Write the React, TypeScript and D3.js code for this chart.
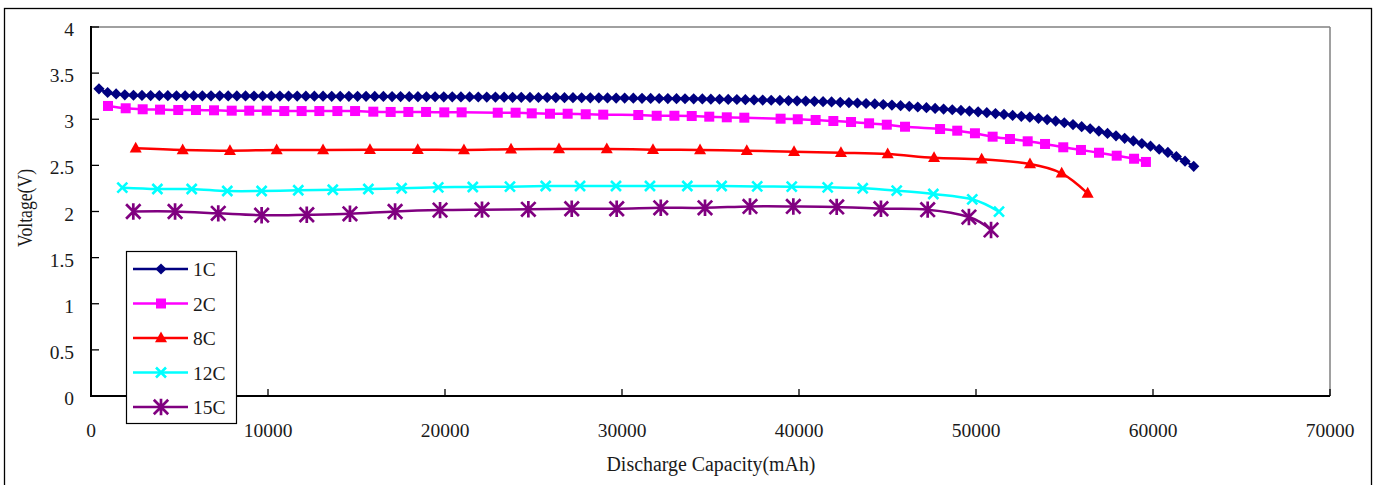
import React from "react";
import * as d3 from "d3";

// ---------- data ----------
const CAP_1C = [
  450, 940, 1420, 1910, 2400, 2880, 3370, 3860, 4340, 4830,
  5320, 5800, 6290, 6780, 7270, 7750, 8240, 8730, 9210, 9700,
  10190, 10670, 11160, 11650, 12140, 12620, 13110, 13600, 14080, 14570,
  15060, 15540, 16030, 16520, 17010, 17490, 17980, 18470, 18950, 19440,
  19930, 20410, 20900, 21390, 21880, 22360, 22850, 23340, 23820, 24310,
  24800, 25280, 25770, 26260, 26750, 27230, 27720, 28210, 28690, 29180,
  29670, 30150, 30640, 31130, 31620, 32100, 32590, 33080, 33560, 34050,
  34540, 35020, 35510, 36000, 36490, 36970, 37460, 37950, 38430, 38920,
  39410, 39890, 40380, 40870, 41360, 41840, 42330, 42820, 43300, 43790,
  44280, 44760, 45250, 45740, 46230, 46710, 47200, 47690, 48170, 48660,
  49150, 49630, 50120, 50610, 51100, 51580, 52070, 52560, 53040, 53530,
  54020, 54500, 54990, 55480, 55970, 56450, 56940, 57430, 57910, 58400,
  58890, 59370, 59860, 60350, 60840, 61320, 61810, 62300,
];
const V_1C = [
  3.33, 3.29, 3.275, 3.265, 3.26, 3.258, 3.257, 3.256, 3.256, 3.255,
  3.255, 3.255, 3.254, 3.254, 3.254, 3.253, 3.253, 3.253, 3.252, 3.252,
  3.252, 3.251, 3.251, 3.251, 3.25, 3.25, 3.25, 3.249, 3.249, 3.249,
  3.248, 3.248, 3.247, 3.247, 3.246, 3.246, 3.245, 3.245, 3.244, 3.244,
  3.243, 3.243, 3.242, 3.242, 3.241, 3.24, 3.24, 3.239, 3.238, 3.238,
  3.237, 3.236, 3.236, 3.235, 3.234, 3.234, 3.233, 3.232, 3.232, 3.231,
  3.23, 3.229, 3.228, 3.227, 3.226, 3.225, 3.224, 3.223, 3.222, 3.221,
  3.22, 3.218, 3.217, 3.215, 3.214, 3.212, 3.21, 3.208, 3.206, 3.204,
  3.202, 3.2, 3.197, 3.194, 3.191, 3.188, 3.184, 3.18, 3.176, 3.171,
  3.166, 3.16, 3.154, 3.147, 3.14, 3.133, 3.125, 3.117, 3.11, 3.103,
  3.096, 3.089, 3.08, 3.071, 3.062, 3.052, 3.042, 3.032, 3.022, 3.01,
  2.996, 2.98, 2.962, 2.942, 2.92, 2.897, 2.872, 2.846, 2.82, 2.793,
  2.765, 2.737, 2.708, 2.675, 2.64, 2.595, 2.545, 2.49,
];

const CAP_2C = [
  960, 1960, 2920, 3900, 4930, 5930, 6950, 7950, 8940, 9930,
  10920, 11900, 12900, 13920, 14920, 15950, 16930, 17930, 18930, 19960,
  20940, 22980, 23990, 24900, 25930, 26930, 27950, 28940, 30920, 31960,
  32960, 33940, 34930, 35920, 36910, 38960, 39930, 40940, 41940, 42940,
  43960, 44960, 45990, 47970, 48940, 49940, 50940, 51920, 52920, 53900,
  54930, 55930, 56950, 57950, 58930, 59600,
];
const V_2C = [
  3.144, 3.119, 3.108, 3.104, 3.1, 3.1, 3.097, 3.093, 3.093, 3.093,
  3.089, 3.089, 3.089, 3.089, 3.089, 3.082, 3.079, 3.079, 3.079, 3.075,
  3.075, 3.071, 3.071, 3.064, 3.06, 3.06, 3.054, 3.05, 3.046, 3.038,
  3.038, 3.035, 3.028, 3.021, 3.017, 3.006, 3.0, 2.992, 2.981, 2.97,
  2.956, 2.941, 2.919, 2.894, 2.876, 2.848, 2.811, 2.786, 2.761, 2.732,
  2.696, 2.667, 2.637, 2.605, 2.572, 2.537,
];

const CAP_8C = [
  2525, 5180, 7850, 10490, 13110, 15760, 18460, 21070, 23730, 26440,
  29140, 31750, 34410, 37050, 39720, 42370, 45010, 47630, 50320, 53050,
  54840, 56310,
];
const V_8C = [
  2.685, 2.667, 2.659, 2.667, 2.667, 2.67, 2.67, 2.667, 2.674, 2.678,
  2.678, 2.67, 2.667, 2.659, 2.648, 2.637, 2.623, 2.583, 2.566, 2.515,
  2.414, 2.197,
];

const CAP_12C = [
  1770, 3750, 5690, 7700, 9640, 11710, 13660, 15670, 17550, 19620,
  21570, 23670, 25690, 27630, 29660, 31580, 33690, 35630, 37640, 39590,
  41620, 43600, 45520, 47590, 49790, 51300,
];
const V_12C = [
  2.258, 2.244, 2.244, 2.222, 2.222, 2.23, 2.236, 2.244, 2.252, 2.262,
  2.266, 2.269, 2.276, 2.276, 2.276, 2.276, 2.276, 2.276, 2.272, 2.269,
  2.262, 2.252, 2.226, 2.19, 2.132, 1.998,
];

const CAP_15C = [
  2390, 4750, 7190, 9640, 12190, 14630, 17180, 19720, 22090, 24710,
  27160, 29700, 32190, 34690, 37230, 39680, 42130, 44630, 47270, 49600,
  50850,
];
const V_15C = [
  2.0, 2.0, 1.98, 1.96, 1.965, 1.975, 2.0, 2.015, 2.02, 2.024,
  2.03, 2.03, 2.04, 2.04, 2.055, 2.055, 2.05, 2.03, 2.02, 1.94,
  1.8,
];

const SERIES_NAMES = ["1C", "2C", "8C", "12C", "15C"];
const SERIES_COLORS = ["#000080", "#FF00FF", "#FF0000", "#00FFFF", "#800080"];
const SERIES_MARKERS = ["diamond", "square", "triangle", "x", "star"];
const SERIES_CAPS = [CAP_1C, CAP_2C, CAP_8C, CAP_12C, CAP_15C];
const SERIES_VOLTS = [V_1C, V_2C, V_8C, V_12C, V_15C];

const X_TICKS = [0, 10000, 20000, 30000, 40000, 50000, 60000, 70000];
const Y_TICKS = [0, 0.5, 1, 1.5, 2, 2.5, 3, 3.5, 4];

const X_TITLE = "Discharge Capacity(mAh)";
const Y_TITLE = "Voltage(V)";

// ---------- layout ----------
const W = 1377;
const H = 485;
const PL = 91, PR = 1330, PT = 27, PB = 396;
const FONT = "'Liberation Serif', 'DejaVu Serif', serif";
const TXT = "#1a1a1a";

function Marker({ kind, color, x, y }: { kind: string; color: string; x: number; y: number }) {
  if (kind === "diamond") {
    const r = 5.6;
    return <path d={`M${x},${y - r}L${x + r},${y}L${x},${y + r}L${x - r},${y}Z`} fill={color} />;
  }
  if (kind === "square") {
    const s = 10;
    return <rect x={x - s / 2} y={y - s / 2} width={s} height={s} fill={color} />;
  }
  if (kind === "triangle") {
    return <path d={`M${x},${y - 6.5}L${x + 6},${y + 4.3}L${x - 6},${y + 4.3}Z`} fill={color} />;
  }
  if (kind === "x") {
    const r = 5;
    return (
      <path
        d={`M${x - r},${y - r}L${x + r},${y + r}M${x - r},${y + r}L${x + r},${y - r}`}
        stroke={color}
        strokeWidth={2.6}
        fill="none"
      />
    );
  }
  const r = 8.2;
  const d = 7.2;
  return (
    <path
      d={`M${x - d},${y - d}L${x + d},${y + d}M${x - d},${y + d}L${x + d},${y - d}M${x},${y - r}L${x},${y + r}`}
      stroke={color}
      strokeWidth={2.7}
      fill="none"
    />
  );
}

export default function App() {
  const x = d3.scaleLinear().domain([0, 70000]).range([PL, PR]);
  const y = d3.scaleLinear().domain([0, 4]).range([PB, PT]);
  const line = d3
    .line<[number, number]>()
    .x((d) => x(d[0]))
    .y((d) => y(d[1]))
    .curve(d3.curveCatmullRom.alpha(0));

  const series = SERIES_NAMES.map((name, i) => ({
    name,
    color: SERIES_COLORS[i],
    marker: SERIES_MARKERS[i],
    pts: SERIES_CAPS[i].map((c, j) => [c, SERIES_VOLTS[i][j]] as [number, number]),
  }));

  const legX = 126, legY = 251, legW = 110, legH = 172;
  const legRowY = (i: number) => 269 + i * 34.5;

  return (
    <svg
      width={W}
      height={H}
      style={{ position: "absolute", left: 0, top: 0, display: "block", background: "#fff" }}
      fontFamily={FONT}
    >
      <rect x={0} y={0} width={W} height={H} fill="#fff" />
      {/* outer frame */}
      <rect x={4.5} y={8.5} width={1367} height={500} fill="none" stroke="#000" strokeWidth={1.3} />

      {/* plot frame */}
      <line x1={PL} y1={PT} x2={PR} y2={PT} stroke="#808080" strokeWidth={1.5} />
      <line x1={PR} y1={PT} x2={PR} y2={PB} stroke="#808080" strokeWidth={1.5} />

      {/* y ticks */}
      {Y_TICKS.map((t) => (
        <g key={"y" + t}>
          <line x1={PL} x2={PL + 8} y1={y(t)} y2={y(t)} stroke="#000" strokeWidth={1.3} />
          <text x={74} y={y(t) + 9} textAnchor="end" fontSize={19.5} fill={TXT}>
            {String(t)}
          </text>
        </g>
      ))}
      {/* x ticks */}
      {X_TICKS.map((t) => (
        <g key={"x" + t}>
          <line x1={x(t)} x2={x(t)} y1={PB} y2={PB - 7} stroke="#000" strokeWidth={1.3} />
          <text x={x(t)} y={437} textAnchor="middle" fontSize={19.5} fill={TXT}>
            {String(t)}
          </text>
        </g>
      ))}

      {/* axes */}
      <line x1={PL} y1={PT - 1} x2={PL} y2={PB + 1} stroke="#000" strokeWidth={2} />
      <line x1={PL - 1} y1={PB} x2={PR} y2={PB} stroke="#000" strokeWidth={2} />

      {/* series */}
      {series.map((s) => (
        <g key={s.name}>
          <path d={line(s.pts) || ""} fill="none" stroke={s.color} strokeWidth={2.5} />
          {s.pts.map((p, j) => (
            <Marker key={j} kind={s.marker} color={s.color} x={x(p[0])} y={y(p[1])} />
          ))}
        </g>
      ))}

      {/* axis titles */}
      <text x={711} y={471} textAnchor="middle" fontSize={20} fill={TXT} textLength={209} lengthAdjust="spacingAndGlyphs">
        {X_TITLE}
      </text>
      <text
        transform={`translate(32,208) rotate(-90)`}
        textAnchor="middle"
        fontSize={20}
        fill={TXT}
        textLength={78}
        lengthAdjust="spacingAndGlyphs"
      >
        {Y_TITLE}
      </text>

      {/* legend */}
      <rect x={legX + 0.5} y={legY + 0.5} width={legW} height={legH} fill="#fff" stroke="#000" strokeWidth={1.2} />
      {series.map((s, i) => (
        <g key={"leg" + s.name}>
          <line x1={133} x2={188} y1={legRowY(i)} y2={legRowY(i)} stroke={s.color} strokeWidth={2.5} />
          <Marker kind={s.marker} color={s.color} x={161} y={legRowY(i)} />
          <text x={193} y={legRowY(i) + 7} fontSize={19.5} fill={TXT}>
            {s.name}
          </text>
        </g>
      ))}
    </svg>
  );
}
